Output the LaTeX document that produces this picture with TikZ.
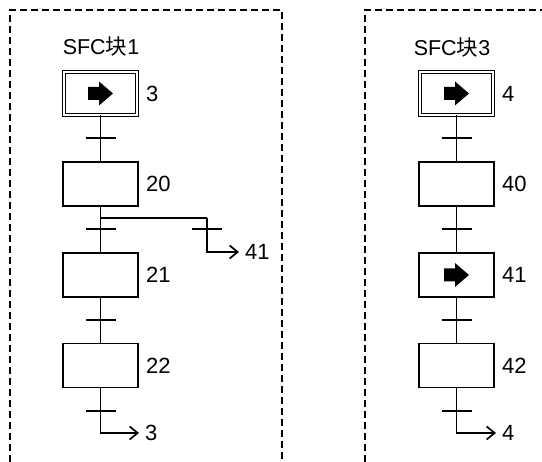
\documentclass[tikz,border=0pt]{standalone}
\usepackage{fontspec}
\setmainfont{Liberation Sans}
\newfontfamily\cjk{Noto Sans CJK SC}
\usetikzlibrary{arrows.meta}
\begin{document}
\begin{tikzpicture}[x=1pt,y=-1pt,
  lw/.style={line width=1.7pt},
  frame/.style={line width=1.3pt, dash pattern=on 7pt off 4pt},
  stepbox/.style={draw, lw, minimum width=75pt, minimum height=44pt, inner sep=0pt, outer sep=0pt},
  initbox/.style={draw, line width=1.3pt, double, double distance=1.7pt, minimum width=73.4pt, minimum height=42.5pt, inner sep=0pt, outer sep=0pt},
  lbl/.style={anchor=west, inner sep=0pt, font=\fontsize{22}{24}\selectfont},
  ttl/.style={inner sep=0pt, font=\fontsize{21.5}{24}\selectfont},
  jump/.style={lw, -{Straight Barb[length=8pt,width=13pt,line width=1.7pt]}, shorten >=6pt},
  fatarrow/.pic={\fill (-12.5,-6.5) -- ++(11,0) -- ++(0,-5.5) -- ++(14,12) -- ++(-14,12) -- ++(0,-5.5) -- ++(-11,0) -- cycle;}
]
\useasboundingbox (0,0) rectangle (542,462);

% frames
\draw[frame] (10,462) -- (10,10) -- (282,10) -- (282,462);
\draw[frame] (365,462) -- (365,10) -- (542,10);

% ---------- left block ----------
\node[ttl] (tA) at (101,46) {SFC{\cjk 块}1};
\node[initbox] (s3) at (100.5,93.5) {};
\pic at (s3) {fatarrow};
\node[lbl] (l3) at (146,93.5) {3};
\node[stepbox] (s20) at (100.5,184) {};
\node[lbl] (l20) at (146,184) {20};
\node[stepbox] (s21) at (100.5,275) {};
\node[lbl] (l21) at (146,275) {21};
\node[stepbox] (s22) at (100.5,365.5) {};
\node[lbl] (l22) at (146,365.5) {22};
\node[lbl] (j41) at (245,252) {41};
\node[lbl] (j3) at (145,433) {3};

\draw[lw] (s3.south) -- (s20.north);
\draw[lw] (s20.south) -- (s21.north);
\draw[lw] (s21.south) -- (s22.north);
\coordinate (br) at (207,218);
\draw[lw] (s20.south |- br) -- (br);
\draw[jump] (br) |- (j41.west);
\draw[jump] (s22.south) |- (j3.west);

\foreach \y in {138,229,320,411} \draw[lw] (86,\y) -- (116,\y);
\draw[lw] (192,229) -- (222,229);

% ---------- right block ----------
\node[ttl] (tB) at (452,47) {SFC{\cjk 块}3};
\node[initbox] (s4) at (456.5,93.5) {};
\pic at (s4) {fatarrow};
\node[lbl] (l4) at (502,93.5) {4};
\node[stepbox] (s40) at (456.5,184) {};
\node[lbl] (l40) at (502,184) {40};
\node[stepbox] (s41) at (456.5,275) {};
\pic at (s41) {fatarrow};
\node[lbl] (l41) at (502,275) {41};
\node[stepbox] (s42) at (456.5,365.5) {};
\node[lbl] (l42) at (502,365.5) {42};
\node[lbl] (j4) at (502,433) {4};

\draw[lw] (s4.south) -- (s40.north);
\draw[lw] (s40.south) -- (s41.north);
\draw[lw] (s41.south) -- (s42.north);
\draw[jump] (s42.south) |- (j4.west);

\foreach \y in {138,229,320,411} \draw[lw] (441.5,\y) -- (471.5,\y);
\end{tikzpicture}
\end{document}
